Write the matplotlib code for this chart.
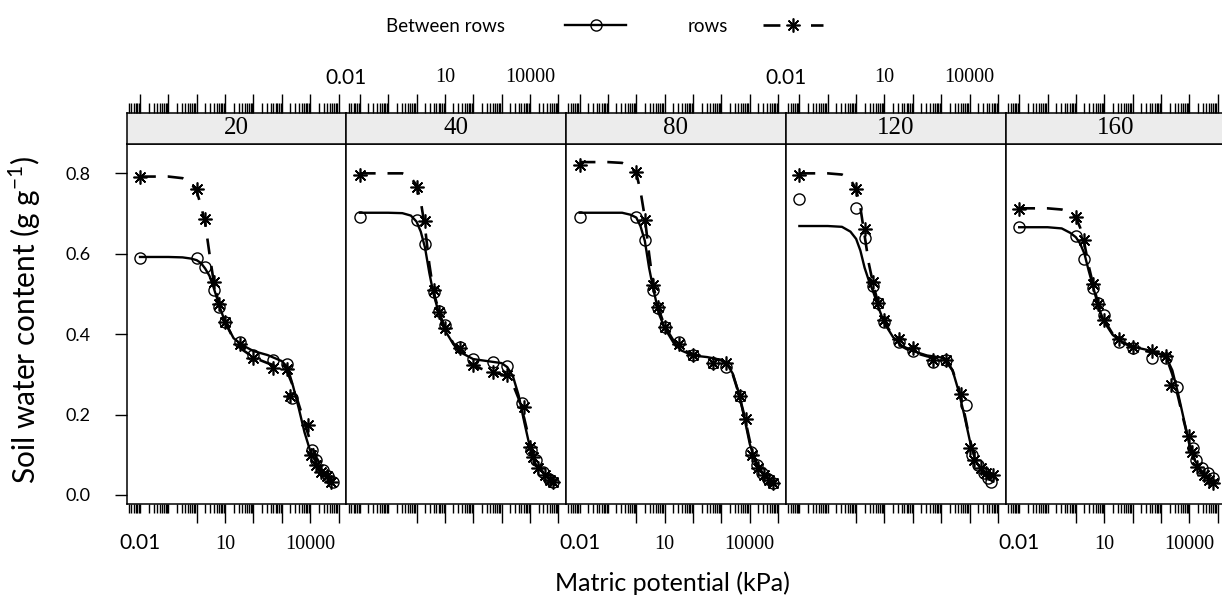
import matplotlib
matplotlib.use("Agg")
import matplotlib.pyplot as plt
from matplotlib.lines import Line2D
import numpy as np

plt.rcParams['font.family'] = 'Lato'
plt.rcParams['mathtext.fontset'] = 'custom'
plt.rcParams['mathtext.rm'] = 'Lato'

depths = ["20", "40", "80", "120", "160"]

# lab suction steps (kPa), same for every panel
lab_kpa = [0.01, 1, 2, 4, 6, 10, 33, 100, 500, 1500]

# measured points, between rows (circles)
between_lab = [
    [0.589, 0.589, 0.566, 0.510, 0.468, 0.431, 0.381, 0.348, 0.336, 0.326],
    [0.691, 0.684, 0.624, 0.506, 0.458, 0.423, 0.369, 0.338, 0.332, 0.321],
    [0.691, 0.691, 0.633, 0.510, 0.464, 0.419, 0.381, 0.348, 0.329, 0.319],
    [0.736, 0.713, 0.639, 0.520, 0.477, 0.431, 0.381, 0.359, 0.332, 0.336],
    [0.666, 0.643, 0.586, 0.514, 0.477, 0.448, 0.381, 0.365, 0.340, 0.340],
]
between_dew_kpa = [
    [2200, 12000, 16500, 29000, 43000, 65000],
    [5400, 11200, 16600, 29000, 46000, 65000],
    [4400, 11200, 17800, 28000, 45000, 68000],
    [7400, 12600, 20000, 32000, 45000, 56000],
    [3600, 12900, 17800, 27000, 46000, 69000],
]
between_dew = [
    [0.241, 0.112, 0.087, 0.062, 0.046, 0.033],
    [0.228, 0.112, 0.087, 0.058, 0.041, 0.033],
    [0.245, 0.108, 0.075, 0.055, 0.040, 0.029],
    [0.224, 0.100, 0.075, 0.055, 0.042, 0.033],
    [0.269, 0.116, 0.087, 0.066, 0.054, 0.042],
]

# measured points, rows (asterisks)
rows_lab = [
    [0.790, 0.761, 0.687, 0.531, 0.475, 0.431, 0.376, 0.340, 0.317, 0.313],
    [0.796, 0.767, 0.682, 0.510, 0.456, 0.415, 0.365, 0.323, 0.307, 0.299],
    [0.820, 0.804, 0.684, 0.522, 0.468, 0.419, 0.376, 0.348, 0.329, 0.328],
    [0.796, 0.760, 0.661, 0.531, 0.478, 0.435, 0.387, 0.365, 0.336, 0.336],
    [0.711, 0.692, 0.633, 0.525, 0.475, 0.435, 0.387, 0.369, 0.357, 0.346],
]
rows_dew_kpa = [
    [1900, 8500, 11000, 16500, 25000, 38000, 56000],
    [6000, 9800, 12600, 19000, 33000, 49000, 65000],
    [4600, 7400, 12000, 19000, 33000, 49000, 65000],
    [5000, 10200, 14500, 25000, 38000, 65000],
    [2300, 9800, 12000, 19000, 32000, 48000, 69000],
]
rows_dew = [
    [0.245, 0.174, 0.100, 0.075, 0.058, 0.046, 0.033],
    [0.218, 0.120, 0.095, 0.066, 0.050, 0.037, 0.033],
    [0.245, 0.188, 0.100, 0.066, 0.050, 0.037, 0.029],
    [0.251, 0.116, 0.087, 0.066, 0.054, 0.050],
    [0.274, 0.147, 0.108, 0.070, 0.050, 0.038, 0.029],
]

curve_log = [-2, -1, -0.5, -0.2, 0, 0.15, 0.3, 0.45, 0.6, 0.8, 1.0, 1.3,
             1.6, 2.0, 2.5, 3.0, 3.2, 3.4, 3.6, 3.8, 4.0, 4.2, 4.5, 4.8]
between_fit = [
    [0.592, 0.592, 0.591, 0.588, 0.584, 0.577, 0.563, 0.545, 0.515, 0.470, 0.430, 0.390,
     0.373, 0.358, 0.348, 0.333, 0.318, 0.270, 0.215, 0.156, 0.110, 0.081, 0.055, 0.034],
    [0.702, 0.702, 0.701, 0.695, 0.680, 0.655, 0.615, 0.553, 0.500, 0.449, 0.410, 0.375,
     0.353, 0.338, 0.333, 0.328, 0.318, 0.295, 0.248, 0.181, 0.118, 0.077, 0.052, 0.033],
    [0.702, 0.702, 0.702, 0.697, 0.690, 0.668, 0.632, 0.565, 0.512, 0.450, 0.415, 0.380,
     0.359, 0.347, 0.343, 0.336, 0.325, 0.302, 0.257, 0.195, 0.127, 0.081, 0.051, 0.031],
    [0.669, 0.669, 0.667, 0.655, 0.637, 0.608, 0.565, 0.533, 0.506, 0.464, 0.427, 0.393,
     0.372, 0.358, 0.347, 0.342, 0.333, 0.310, 0.262, 0.203, 0.138, 0.087, 0.052, 0.034],
    [0.666, 0.666, 0.663, 0.652, 0.641, 0.625, 0.600, 0.558, 0.520, 0.466, 0.430, 0.398,
     0.382, 0.369, 0.361, 0.350, 0.340, 0.310, 0.253, 0.190, 0.125, 0.085, 0.051, 0.033],
]
rows_fit = [
    [0.792, 0.792, 0.788, 0.775, 0.755, 0.720, 0.675, 0.600, 0.530, 0.470, 0.430, 0.388,
     0.362, 0.342, 0.328, 0.316, 0.305, 0.270, 0.225, 0.180, 0.135, 0.095, 0.060, 0.035],
    [0.800, 0.800, 0.800, 0.790, 0.770, 0.730, 0.665, 0.575, 0.505, 0.455, 0.415, 0.377,
     0.345, 0.322, 0.308, 0.300, 0.295, 0.275, 0.240, 0.190, 0.130, 0.085, 0.052, 0.033],
    [0.828, 0.828, 0.826, 0.815, 0.800, 0.755, 0.690, 0.600, 0.520, 0.460, 0.420, 0.385,
     0.362, 0.350, 0.342, 0.335, 0.325, 0.300, 0.255, 0.200, 0.135, 0.085, 0.052, 0.031],
    [0.800, 0.800, 0.797, 0.785, 0.760, 0.715, 0.645, 0.575, 0.525, 0.470, 0.430, 0.395,
     0.370, 0.355, 0.345, 0.338, 0.330, 0.310, 0.270, 0.210, 0.140, 0.090, 0.058, 0.045],
    [0.713, 0.713, 0.710, 0.703, 0.690, 0.665, 0.625, 0.570, 0.525, 0.472, 0.435, 0.400,
     0.380, 0.368, 0.358, 0.350, 0.340, 0.300, 0.245, 0.185, 0.130, 0.085, 0.052, 0.032],
]

W, H = 1222, 609
fig = plt.figure(figsize=(W / 100, H / 100), dpi=100)

x0, pw = 126.5, 219.8
xlim = (10 ** -2.476, 10 ** 5.274)
ylim = (-0.0224, 0.873)
curve_kpa = 10 ** np.array(curve_log)
asterisk = (8, 2, 0)

decades = [10.0 ** k for k in range(-2, 6)]
minors = [m * 10.0 ** k for k in range(-3, 6) for m in range(2, 10)]
serif = 'Liberation Serif'

for i, d in enumerate(depths):
    left = (x0 + i * pw) / W
    ax = fig.add_axes([left, (H - 504) / H, pw / W, 360 / H])
    st = fig.add_axes([left, (H - 144) / H, pw / W, 31.5 / H])

    ax.plot(curve_kpa, between_fit[i], color='k', lw=1.7, zorder=3)
    ax.plot(curve_kpa, rows_fit[i], color='k', lw=1.9, dashes=(6, 4.5), zorder=3)
    ax.plot(lab_kpa + between_dew_kpa[i], between_lab[i] + between_dew[i], ls='none',
            marker='o', ms=8, mfc='none', mec='k', mew=1.0, zorder=4)
    ax.plot(lab_kpa + rows_dew_kpa[i], rows_lab[i] + rows_dew[i], ls='none',
            marker=asterisk, ms=10, mec='k', mew=1.2, zorder=4)

    ax.set_xscale('log')
    for s in ax.spines.values():
        s.set_linewidth(1.1)

    # bottom axis: long ticks from 1 up, short ones below
    bottom_lab = i % 2 == 0
    maj = decades[2:]
    maj_lab = ['', '10', '', '', '10000', ''] if bottom_lab else [''] * len(maj)
    mins = decades[:2] + minors
    min_lab = ['0.01' if (m == 0.01 and bottom_lab) else '' for m in mins]
    ax.set_xticks(maj, maj_lab)
    ax.set_xticks(mins, min_lab, minor=True)
    ax.tick_params(axis='x', which='major', direction='out', length=13.7, width=1,
                   pad=8.5, labelsize=14.5, top=False)
    ax.tick_params(axis='x', which='minor', direction='out', length=6.5, width=1,
                   pad=14.5, labelsize=15, top=False)
    for lb in ax.get_xticklabels():
        lb.set_fontfamily(serif)

    if i == 0:
        ax.set_yticks([0.0, 0.2, 0.4, 0.6, 0.8], ['0.0', '0.2', '0.4', '0.6', '0.8'])
        ax.tick_params(axis='y', direction='out', length=8.6, width=1, pad=17,
                       labelsize=13)
    else:
        ax.set_yticks([])
    ax.set_xlim(xlim)
    ax.set_ylim(ylim)

    # strip with the depth and the top axis
    st.set_facecolor('#ececec')
    st.set_xscale('log')
    st.set_yticks([])
    for s in st.spines.values():
        s.set_linewidth(1.1)
    st.text(0.5, 0.5, d, transform=st.transAxes, ha='center', va='center',
            fontsize=18, family=serif)
    st.xaxis.tick_top()
    top_lab = i % 2 == 1
    st.set_xticks(decades, ['', '', '', '10', '', '', '10000', ''] if top_lab else [''] * 8)
    st.set_xticks(minors, minor=True)
    st.tick_params(axis='x', which='major', direction='out', length=13.7, width=1,
                   pad=5, labelsize=14.5, bottom=False)
    st.tick_params(axis='x', which='minor', direction='out', length=7, width=1,
                   bottom=False)
    for lb in st.get_xticklabels():
        lb.set_fontfamily(serif)
    st.set_xlim(xlim)
    st.set_ylim(0, 1)
    if top_lab:
        st.annotate('0.01', xy=(0.01, 1), xycoords=('data', 'axes fraction'),
                    xytext=(-10, 25), textcoords='offset points',
                    ha='center', va='center', fontsize=15)

fig.text(25 / W, 1 - 320 / H, 'Soil water content (g g$^{-1}$)', rotation=90,
         ha='center', va='center', fontsize=21.5)
fig.text(672 / W, 1 - 583 / H, 'Matric potential (kPa)', ha='center', va='center',
         fontsize=18)

h1 = Line2D([], [], color='k', lw=1.7, marker='o', ms=8, mfc='none', mec='k', mew=1.0)
h2 = Line2D([], [], color='k', lw=1.9, dashes=(6.4, 11.6), marker=asterisk, ms=10,
            mec='k', mew=1.2)
fig.legend([h1], ['Between rows'], loc='center', bbox_to_anchor=(506 / W, 1 - 26 / H),
           frameon=False, markerfirst=False, handlelength=3.25, handletextpad=3.2,
           prop={'family': 'Lato', 'size': 13.5})
fig.legend([h2], ['rows'], loc='center', bbox_to_anchor=(755.5 / W, 1 - 26 / H),
           frameon=False, markerfirst=False, handlelength=3.25, handletextpad=1.85,
           prop={'family': 'Lato', 'size': 13.5})

fig.savefig('out.png', dpi=100)
